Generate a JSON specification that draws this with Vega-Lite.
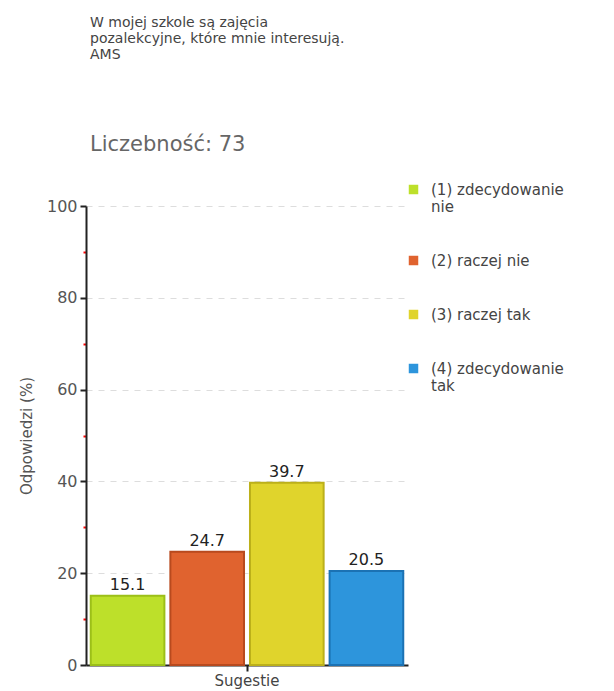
{
  "$schema": "https://vega.github.io/schema/vega-lite/v6.json",
  "width": 322,
  "height": 459,
  "padding": {"left": 19, "top": 16, "right": 5, "bottom": 3},
  "background": "white",
  "config": {"font": "DejaVu Sans", "view": {"stroke": null}},
  "title": {
    "text": ["W mojej szkole są zajęcia", "pozalekcyjne, które mnie interesują.", "AMS"],
    "subtitle": "Liczebność: 73",
    "anchor": "start",
    "frame": "group",
    "dx": 4,
    "font": "DejaVu Sans",
    "fontSize": 14,
    "fontWeight": "normal",
    "color": "#444",
    "lineHeight": 16,
    "subtitleFont": "DejaVu Sans",
    "subtitleFontSize": 21,
    "subtitleColor": "#666",
    "subtitlePadding": 72,
    "offset": 27
  },
  "data": {
    "values": [
      {"grupa": "Sugestie", "odp": "(1) zdecydowanie nie", "proc": 15.1},
      {"grupa": "Sugestie", "odp": "(2) raczej nie", "proc": 24.7},
      {"grupa": "Sugestie", "odp": "(3) raczej tak", "proc": 39.7},
      {"grupa": "Sugestie", "odp": "(4) zdecydowanie tak", "proc": 20.5}
    ]
  },
  "encoding": {
    "x": {
      "field": "grupa",
      "type": "nominal",
      "scale": {"paddingInner": 0, "paddingOuter": 0.01},
      "axis": {
        "title": null,
        "labelAngle": 0,
        "labelFontSize": 15,
        "labelColor": "#444",
        "labelPadding": 2,
        "domainColor": "#222",
        "domainWidth": 2,
        "tickColor": "#222",
        "tickSize": 6,
        "tickWidth": 2,
        "grid": false
      }
    },
    "xOffset": {
      "field": "odp",
      "type": "nominal",
      "scale": {"paddingInner": 0.075, "paddingOuter": 0.02}
    },
    "y": {
      "field": "proc",
      "type": "quantitative",
      "scale": {"domain": [0, 100], "nice": false},
      "axis": {
        "title": "Odpowiedzi (%)",
        "titleFontSize": 15,
        "titleFontWeight": "normal",
        "titleColor": "#555",
        "titlePadding": 12,
        "values": [0, 10, 20, 30, 40, 50, 60, 70, 80, 90, 100],
        "labelExpr": "datum.value % 20 == 0 ? datum.label : ''",
        "labelFontSize": 16,
        "labelColor": "#555",
        "labelPadding": 3,
        "domainColor": "#222",
        "domainWidth": 2,
        "tickColor": {"condition": {"test": "datum.value % 20 != 0", "value": "red"}, "value": "#222"},
        "tickSize": {"condition": {"test": "datum.value % 20 != 0", "value": 3}, "value": 6},
        "tickWidth": 2,
        "grid": true,
        "gridColor": "#ddd",
        "gridDash": [6, 6],
        "gridOpacity": {"condition": {"test": "datum.value % 20 != 0 || datum.value == 0", "value": 0}, "value": 1}
      }
    }
  },
  "layer": [
    {
      "mark": {"type": "bar", "strokeWidth": 2},
      "encoding": {
        "color": {
          "field": "odp",
          "type": "nominal",
          "scale": {"range": ["#bde02a", "#e0632f", "#e0d42c", "#2d95dc"]},
          "legend": {
            "title": null,
            "orient": "none",
            "legendX": 320,
            "legendY": -24,
            "symbolType": "square",
            "symbolSize": 90,
            "symbolStrokeWidth": 0,
            "labelFontSize": 15,
            "labelColor": "#444",
            "labelOffset": 10,
            "rowPadding": 38,
            "labelLimit": 200,
            "labelExpr": "datum.label == '(1) zdecydowanie nie' ? ['(1) zdecydowanie', 'nie'] : datum.label == '(4) zdecydowanie tak' ? ['(4) zdecydowanie', 'tak'] : datum.label"
          }
        },
        "stroke": {
          "field": "odp",
          "type": "nominal",
          "scale": {"range": ["#9cbf18", "#b84a1e", "#bcb01a", "#1b72b4"]},
          "legend": null
        }
      }
    },
    {
      "mark": {"type": "text", "dy": -11, "fontSize": 16, "color": "#222"},
      "encoding": {
        "text": {"field": "proc", "type": "quantitative", "format": ".1f"}
      }
    }
  ]
}
